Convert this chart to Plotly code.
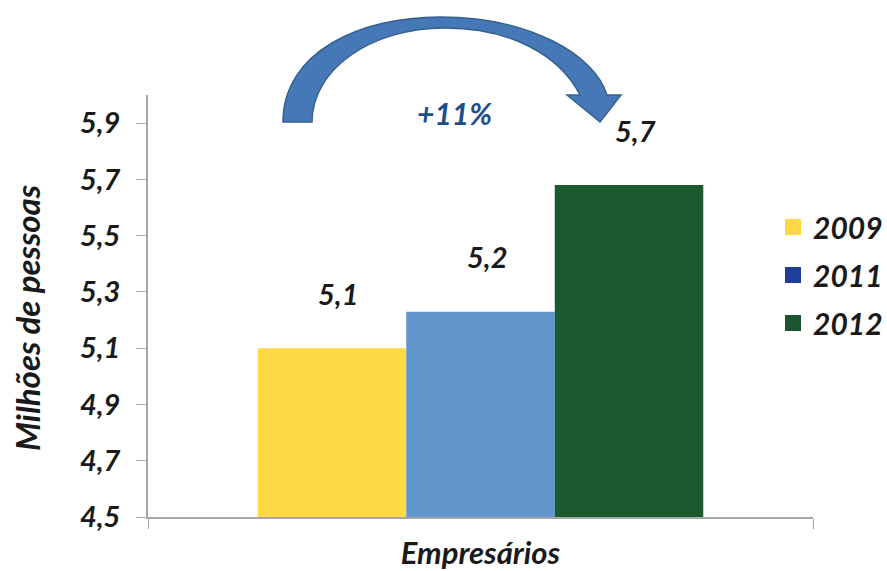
import plotly.graph_objects as go

# Data
category = ["Empresários"]
years = ["2009", "2011", "2012"]
values = [5.10, 5.23, 5.68]          # milhões de pessoas
bar_colors = ["#FDDA44", "#6496CE", "#1B5A31"]
legend_colors = ["#FDDA44", "#1F3E98", "#1B5530"]
growth_label = "+11%"
y_title = "Milhões de pessoas"
y_ticks = [4.5, 4.7, 4.9, 5.1, 5.3, 5.5, 5.7, 5.9]

# Layout constants (pixels)
W, H = 887, 571
M_L, M_R, M_T, M_B = 148, 74, 95, 54
PW, PH = W - M_L - M_R, H - M_T - M_B
BARGAP = 0.33

FONT = dict(family="Lato", weight="bold", style="italic", color="#1a1a1a")

fig = go.Figure()

for yr, v, c in zip(years, values, bar_colors):
    fig.add_trace(go.Bar(
        x=category, y=[v], name=yr, marker=dict(color=c, line=dict(width=0)),
        showlegend=False, hoverinfo="skip",
    ))

# Legend entries (square swatches)
for yr, c in zip(years, legend_colors):
    fig.add_trace(go.Scatter(
        x=[None], y=[None], mode="markers", name=yr, legendgroup=yr,
        marker=dict(symbol="square", size=16, color=c),
    ))

# Value labels above each bar
bar_w = PW * (1 - BARGAP) / len(values)
for i, v in enumerate(values):
    fig.add_annotation(
        x=category[0], y=v, xref="x", yref="y",
        text=f"{v:.1f}".replace(".", ","), showarrow=False,
        xshift=(i - 1) * bar_w + 6, yshift=55,
        font=dict(FONT, size=29),
    )


def to_paper(px, py):
    return (px - M_L) / PW, (M_T + PH - py) / PH


# Curved growth arrow, drawn in pixel space and converted to paper coordinates
def P(px, py):
    x, y = to_paper(px, py)
    return f"{x:.4f},{y:.4f}"


arrow_path = (
    f"M {P(283,122)} "
    f"C {P(283,52)} {P(360,17)} {P(440,17)} "
    f"C {P(530,17)} {P(595,55)} {P(607,95)} "
    f"L {P(621,95)} L {P(600,122)} L {P(567,95)} L {P(580,95)} "
    f"C {P(560,55)} {P(510,28)} {P(445,28)} "
    f"C {P(370,28)} {P(312,70)} {P(312,122)} Z"
)
fig.add_shape(
    type="path", path=arrow_path, xref="paper", yref="paper",
    fillcolor="#4677B6", line=dict(color="#36618F", width=1.5), layer="above",
)

gx, gy = to_paper(454, 93)
fig.add_annotation(
    x=gx, y=gy, xref="paper", yref="paper", text=growth_label, showarrow=False,
    font=dict(FONT, size=30, color="#1F4E8C"),
)

# Vertical axis title
tx, ty = to_paper(27, 318)
fig.add_annotation(
    x=tx, y=ty, xref="paper", yref="paper", text=y_title, showarrow=False,
    xanchor="center", yanchor="middle",
    textangle=-90, font=dict(FONT, size=33),
)

fig.update_layout(
    width=W, height=H,
    margin=dict(l=M_L, r=M_R, t=M_T, b=M_B, pad=0, autoexpand=False),
    paper_bgcolor="white", plot_bgcolor="white",
    separators=",.",
    barmode="group", bargap=BARGAP, bargroupgap=0,
    font=dict(FONT, size=26),
    showlegend=True,
    legend=dict(
        x=(773 - M_L) / PW, y=to_paper(0, 201)[1], xanchor="left", yanchor="top",
        font=dict(FONT, size=30), tracegroupgap=6, bgcolor="rgba(0,0,0,0)",
    ),
    xaxis=dict(
        type="category", showline=True, linecolor="#A6A6A6", linewidth=1.5,
        ticks="outside", tickson="boundaries", ticklen=10, tickcolor="#A6A6A6",
        tickfont=dict(FONT, size=31), ticklabelstandoff=8,
        showgrid=False, zeroline=False, automargin=False,
    ),
    yaxis=dict(
        range=[4.5, 6.0], tickvals=y_ticks, tickformat=".1f",
        showline=True, linecolor="#A6A6A6", linewidth=1.5,
        ticks="outside", ticklen=10, tickcolor="#A6A6A6",
        tickfont=dict(FONT, size=29), ticklabelstandoff=10,
        showgrid=False, zeroline=False, automargin=False,
    ),
)

fig.write_html("out.html")
